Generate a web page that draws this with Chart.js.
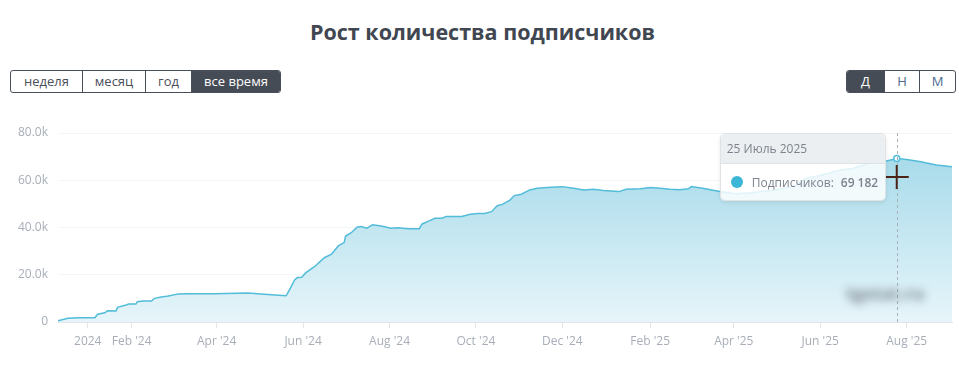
<!DOCTYPE html>
<html lang="ru">
<head>
<meta charset="utf-8">
<title>Рост количества подписчиков</title>
<script src="https://cdn.jsdelivr.net/npm/chart.js@4.4.1/dist/chart.umd.min.js"></script>
<style>
  html, body { margin: 0; padding: 0; background: #fff; }
  body { width: 959px; height: 371px; position: relative; overflow: hidden; font-family: "Open Sans", sans-serif; }
  h2 { position: absolute; left: 0; top: 17px; width: 965px; margin: 0; text-align: center;
       font-size: 21.5px; font-weight: 700; color: #414750; }
  .btn-group { position: absolute; top: 70px; display: flex; border: 1px solid #4a505a; border-radius: 3px; overflow: hidden; }
  .btn-group span { display: block; height: 21px; line-height: 21px; font-size: 13px; color: #4a505a; text-align: center;
                    border-left: 1px solid #4a505a; box-sizing: border-box; }
  .btn-group span:first-child { border-left: none; }
  .btn-group span.active { background: #464c56; color: #fff; }
  #periods { left: 10px; }
  #scale { left: 846px; }
  #scale span { color: #4c6a8c; }
  #scale span.active { color: #fff; }
  #wrap { position: absolute; left: 0; top: 110px; width: 959px; height: 261px; }
  #tip { position: absolute; display: none; width: 164px; background: rgba(255,255,255,0.82); border: 1px solid #dfe3e6;
         border-radius: 5px; box-shadow: 0 2px 4px rgba(0,0,0,0.08); font-size: 12px; color: #7c838d; pointer-events: none; }
  #tip .head { background: #eceff1; height: 29px; line-height: 29px; padding-left: 6px; border-bottom: 1px solid #dde2e5;
               border-radius: 5px 5px 0 0; font-size: 12px; }
  #tip .body { height: 36px; display: flex; align-items: center; padding-left: 10px; }
  #tip .dot { width: 12px; height: 12px; border-radius: 50%; background: #3cb6d6; margin-right: 9px; }
  #tip b { font-weight: 600; margin-left: 7px; }
  #mark { position: absolute; left: 846px; top: 281px; width: 100px; height: 24px; font-size: 18px; font-weight: 700;
          color: #6f7680; filter: blur(4px); opacity: 0.85; }
</style>
</head>
<body>
<h2>Рост количества подписчиков</h2>

<div class="btn-group" id="periods">
  <span style="width:71px">неделя</span>
  <span style="width:63px">месяц</span>
  <span style="width:46px">год</span>
  <span style="width:89px" class="active">все время</span>
</div>
<div class="btn-group" id="scale">
  <span style="width:37px" class="active">Д</span>
  <span style="width:35px">Н</span>
  <span style="width:36px">М</span>
</div>

<div id="wrap"><canvas id="myChart"></canvas><div id="tip"></div></div>
<div id="mark">tgstat.ru</div>

<script>
"use strict";

// days since 2024-01-01
const days = [
  -21, -14, -6, 5, 7, 12, 14, 20, 21, 27, 29, 34, 35, 39, 45, 47, 52, 57, 64, 71,
  90, 113, 127, 140, 141, 143, 146, 148, 151, 154, 160, 167, 172, 177, 181, 182, 186, 190, 193, 197,
  201, 207, 214, 219, 226, 234, 236, 241, 245, 250, 253, 264, 270, 275, 280, 285, 289, 293, 298, 301,
  306, 312, 317, 324, 335, 343, 350, 357, 364, 375, 380, 390, 397, 404, 411, 418, 424, 426, 434, 446,
  457, 467, 478, 488, 499, 507, 517, 531, 540, 549, 557, 563, 571, 578, 587, 599, 610
];
const subscribers = [
  500, 1600, 1800, 1800, 3300, 3900, 4800, 4700, 6200, 7200, 7600, 7600, 8600, 8900, 8900, 10000, 10600, 11000, 11900, 12000,
  12000, 12300, 11600, 11100, 12100, 14300, 17800, 18800, 18900, 20900, 23400, 27200, 28700, 32300, 33600, 36400, 37800, 40100, 40400, 39700,
  41200, 40600, 39700, 39900, 39500, 39500, 41500, 42800, 43900, 43900, 44700, 44700, 45600, 45900, 45900, 46700, 49200, 49900, 51600, 53500,
  54100, 55900, 56600, 56900, 57300, 56600, 55900, 56200, 55700, 55200, 56200, 56400, 56900, 56600, 56200, 56000, 56400, 57300, 56600, 55200,
  54300, 54600, 55300, 56200, 57500, 60800, 62000, 64300, 65000, 66800, 68800, 68000, 69182, 68800, 67900, 66500, 65700
];

const tickDays = [0, 31, 91, 152, 213, 274, 335, 397, 456, 517, 578];
const tickLabels = ["2024", "Feb '24", "Apr '24", "Jun '24", "Aug '24", "Oct '24", "Dec '24", "Feb '25", "Apr '25", "Jun '25", "Aug '25"];
const yTicks = [0, 20000, 40000, 60000, 80000];
const monthsRu = ["Январь", "Февраль", "Март", "Апрель", "Май", "Июнь", "Июль", "Август", "Сентябрь", "Октябрь", "Ноябрь", "Декабрь"];
const hoverIndex = days.indexOf(571);

const lineColor = "#52bcd9";

function dayToText(d) {
  const dt = new Date(Date.UTC(2024, 0, 1) + d * 86400000);
  return dt.getUTCDate() + " " + monthsRu[dt.getUTCMonth()] + " " + dt.getUTCFullYear();
}

function fmtNum(v) {
  return String(v).replace(/\B(?=(\d{3})+(?!\d))/g, " ");
}

function htmlTooltip(context) {
  const tip = document.getElementById("tip");
  const t = context.tooltip;
  if (t.opacity === 0 || !t.dataPoints || !t.dataPoints.length) { tip.style.display = "none"; return; }
  const p = t.dataPoints[0];
  tip.innerHTML = `
    <div class="head">${dayToText(p.parsed.x)}</div>
    <div class="body"><span class="dot"></span>Подписчиков: <b>${fmtNum(p.parsed.y)}</b></div>`;
  tip.style.display = "block";
  tip.style.left = (t.caretX - 11 - tip.offsetWidth) + "px";
  tip.style.top = context.chart.chartArea.top + "px";
}

const crosshair = {
  id: "crosshair",
  afterDatasetsDraw(chart) {
    const act = chart.getActiveElements();
    if (!act.length) return;
    const x = act[0].element.x;
    const { top, bottom } = chart.chartArea;
    const ctx = chart.ctx;
    ctx.save();
    ctx.strokeStyle = "#a9b0b8";
    ctx.lineWidth = 1;
    ctx.setLineDash([3, 3]);
    ctx.beginPath();
    ctx.moveTo(Math.round(x) + 0.5, top);
    ctx.lineTo(Math.round(x) + 0.5, bottom);
    ctx.stroke();
    // mouse cursor
    ctx.setLineDash([]);
    ctx.strokeStyle = "#4b2216";
    ctx.lineWidth = 2;
    const cy = top + 44;
    ctx.beginPath();
    ctx.moveTo(x - 12, cy); ctx.lineTo(x + 12, cy);
    ctx.moveTo(x, cy - 12); ctx.lineTo(x, cy + 12);
    ctx.stroke();
    ctx.restore();
  }
};

const ctx = document.getElementById("myChart");

const chart = new Chart(ctx, {
  type: "line",
  data: {
    datasets: [{
      label: "Подписчиков",
      data: days.map((d, i) => ({ x: d, y: subscribers[i] })),
      borderColor: lineColor,
      borderWidth: 1.5,
      pointRadius: 0,
      pointHoverRadius: 3,
      pointHoverBackgroundColor: "#fff",
      pointHoverBorderColor: lineColor,
      pointHoverBorderWidth: 1.5,
      tension: 0,
      fill: "origin",
      backgroundColor(c) {
        const area = c.chart.chartArea;
        if (!area) return "#cdebf4";
        const g = c.chart.ctx.createLinearGradient(0, area.top, 0, area.bottom);
        g.addColorStop(0, "#9fd7e8");
        g.addColorStop(1, "#e6f5fa");
        return g;
      }
    }]
  },
  options: {
    responsive: true,
    maintainAspectRatio: false,
    animation: false,
    layout: { padding: { top: 23, right: 7, left: 0, bottom: 0 } },
    interaction: { mode: "index", intersect: false },
    plugins: {
      legend: { display: false },
      tooltip: { enabled: false, external: htmlTooltip }
    },
    scales: {
      x: {
        type: "linear",
        min: -21,
        max: 610,
        afterBuildTicks(s) { s.ticks = tickDays.map(v => ({ value: v })); },
        afterFit(s) { s.height = 49; },
        border: { color: "#e2e5e8" },
        grid: { drawOnChartArea: false, drawTicks: true, tickLength: 6, color: "#e2e5e8" },
        ticks: {
          autoSkip: false,
          maxRotation: 0,
          padding: 6,
          color: "#a7aeb8",
          font: { family: "Open Sans", size: 12 },
          callback(v) { const i = tickDays.indexOf(v); return i >= 0 ? tickLabels[i] : ""; }
        }
      },
      y: {
        min: 0,
        max: 80000,
        afterBuildTicks(s) { s.ticks = yTicks.map(v => ({ value: v })); },
        afterFit(s) { s.width = 58; },
        border: { display: false },
        grid: { color: "#f4f5f6", drawTicks: false },
        ticks: {
          padding: 10,
          color: "#a7aeb8",
          font: { family: "Open Sans", size: 12 },
          callback(v) { return v === 0 ? "0" : (v / 1000).toFixed(1) + "k"; }
        }
      }
    }
  },
  plugins: [crosshair]
});

const act = [{ datasetIndex: 0, index: hoverIndex }];
const pt = chart.getDatasetMeta(0).data[hoverIndex];
chart.setActiveElements(act);
chart.tooltip.setActiveElements(act, { x: pt.x, y: pt.y });
chart.update();
</script>
</body>
</html>
